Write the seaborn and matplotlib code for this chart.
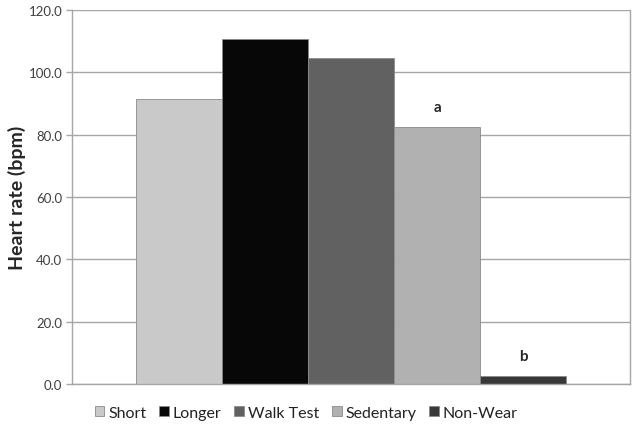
import matplotlib
matplotlib.use("Agg")
import matplotlib.pyplot as plt
import pandas as pd
import seaborn as sns
from matplotlib.ticker import FormatStrFormatter

groups = ["Short", "Longer", "Walk Test", "Sedentary", "Non-Wear"]
heart_rate = [91.4, 110.8, 104.6, 82.5, 2.6]
letters = ["", "", "", "a", "b"]
colors = ["#c9c9c9", "#070707", "#616161", "#b1b1b1", "#383838"]

df = pd.DataFrame({"cat": ["all"] * len(groups), "group": groups, "hr": heart_rate})

sns.set_style("white")
plt.rcParams["font.family"] = ["Lato", "DejaVu Sans"]

fig = plt.figure(figsize=(6.44, 4.27), dpi=100)
ax = fig.add_axes([0.112, 0.098, 0.866, 0.876])

sns.barplot(data=df, x="cat", y="hr", hue="group", hue_order=groups,
            palette=colors, width=0.772, gap=0, ax=ax, legend=True,
            edgecolor="#8a8a8a", linewidth=0.6, saturation=1)

ax.set_xlim(-0.5, 0.5)
ax.set_ylim(0, 120)
ax.set_yticks(range(0, 121, 20))
ax.yaxis.set_major_formatter(FormatStrFormatter("%.1f"))
ax.yaxis.grid(True, color="#a6a6a6", linewidth=1)
ax.set_axisbelow(True)
ax.set_xticks([])
ax.set_xlabel("")
ax.set_ylabel("Heart rate (bpm)", fontsize=14, fontweight="bold", labelpad=2)
ax.tick_params(axis="y", left=True, length=4, width=1, color="#a6a6a6",
               labelsize=9.5, labelcolor="#404040", pad=3)
for side in ["left", "bottom", "right"]:
    ax.spines[side].set_color("#a6a6a6")
    ax.spines[side].set_linewidth(1)
ax.spines["top"].set_visible(False)

# significance letters above bars
for patch, txt in zip(ax.patches, letters):
    if txt:
        ax.text(patch.get_x() + patch.get_width() / 2, patch.get_height() + 4.2, txt,
                ha="center", va="bottom", fontsize=11, fontweight="bold")

handles, labels = ax.get_legend_handles_labels()
ax.legend(handles, labels, loc="upper center", bbox_to_anchor=(0.42, -0.02),
          ncol=5, frameon=False, fontsize=11.5, handlelength=0.6, handleheight=0.6,
          handletextpad=0.25, columnspacing=0.8, labelcolor="#222222")

fig.savefig("out.png", dpi=100)
